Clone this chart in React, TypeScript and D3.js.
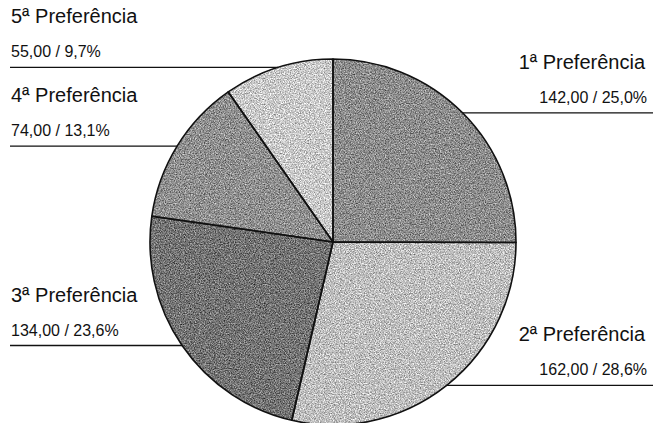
import React, { useEffect, useRef } from "react";
import * as d3 from "d3";

const labels = [
  "1ª Preferência",
  "2ª Preferência",
  "3ª Preferência",
  "4ª Preferência",
  "5ª Preferência",
];
const values = [142, 162, 134, 74, 55];
const fills = ["#8c8c8c", "#bebebe", "#737373", "#8f8f8f", "#c9c9c9"];

const W = 653;
const H = 423;

export default function App() {
  const svgRef = useRef<SVGSVGElement | null>(null);

  useEffect(() => {
    const svg = svgRef.current;
    if (!svg) return;
    const sel = d3.select(svg);
    sel.selectAll("*").remove();

    const cx = 333;
    const cy = 242;
    const r = 183;
    const total = d3.sum(values);

    const pie = d3
      .pie<number>()
      .sort(null)
      .value((d) => d)
      .startAngle(0)
      .endAngle(2 * Math.PI);
    const arcs = pie(values);
    const arc = d3.arc<d3.PieArcDatum<number>>().innerRadius(0).outerRadius(r);

    // scanned-print grain: grey noise added around the fill tone
    // (region is in the pie group's space, which is centred on the pie)
    const defs = sel.append("defs");
    const f = defs
      .append("filter")
      .attr("id", "grain")
      .attr("filterUnits", "userSpaceOnUse")
      .attr("x", -cx)
      .attr("y", -cy)
      .attr("width", W)
      .attr("height", H)
      .attr("color-interpolation-filters", "sRGB");
    f.append("feTurbulence")
      .attr("type", "fractalNoise")
      .attr("baseFrequency", 0.8)
      .attr("numOctaves", 2)
      .attr("seed", 7)
      .attr("result", "noise");
    f.append("feColorMatrix")
      .attr("in", "noise")
      .attr("type", "matrix")
      .attr("values", "1 0 0 0 0  1 0 0 0 0  1 0 0 0 0  0 0 0 0 1")
      .attr("result", "grey");
    f.append("feComposite")
      .attr("in", "SourceGraphic")
      .attr("in2", "grey")
      .attr("operator", "arithmetic")
      .attr("k1", 0)
      .attr("k2", 1)
      .attr("k3", 0.9)
      .attr("k4", -0.45)
      .attr("result", "mixed");
    f.append("feComposite")
      .attr("in", "mixed")
      .attr("in2", "SourceAlpha")
      .attr("operator", "in");

    const g = sel.append("g").attr("transform", `translate(${cx},${cy})`);

    g.selectAll("path.slice")
      .data(arcs)
      .enter()
      .append("path")
      .attr("class", "slice")
      .attr("d", arc)
      .attr("fill", (_, i) => fills[i])
      .attr("filter", "url(#grain)");

    g.selectAll("path.edge")
      .data(arcs)
      .enter()
      .append("path")
      .attr("class", "edge")
      .attr("d", arc)
      .attr("fill", "none")
      .attr("stroke", "#111")
      .attr("stroke-width", 1.6)
      .attr("stroke-linejoin", "round");

    arcs.forEach((a, i) => {
      const mid = (a.startAngle + a.endAngle) / 2;
      const px = cx + r * Math.sin(mid);
      const py = cy - r * Math.cos(mid);
      const right = Math.sin(mid) > 0;
      const pct = ((values[i] / total) * 100).toFixed(1).replace(".", ",");
      const val = values[i].toFixed(2).replace(".", ",");

      sel
        .append("line")
        .attr("x1", right ? px : 10)
        .attr("x2", right ? W : px)
        .attr("y1", py)
        .attr("y2", py)
        .attr("stroke", "#111")
        .attr("stroke-width", 1.3);

      const anchor = right ? "end" : "start";

      sel
        .append("text")
        .attr("x", right ? 645 : 11)
        .attr("y", py - 44)
        .attr("text-anchor", anchor)
        .attr("font-family", "'Liberation Sans', Arial, sans-serif")
        .attr("font-size", 20)
        .attr("fill", "#111")
        .text(labels[i]);

      sel
        .append("text")
        .attr("x", right ? 647 : 11)
        .attr("y", py - 10)
        .attr("text-anchor", anchor)
        .attr("font-family", "'Liberation Sans', Arial, sans-serif")
        .attr("font-size", 16)
        .attr("fill", "#111")
        .text(`${val} / ${pct}%`);
    });
  }, []);

  return (
    <svg
      ref={svgRef}
      width={W}
      height={H}
      style={{ position: "absolute", left: 0, top: 0, background: "#fff" }}
    />
  );
}
